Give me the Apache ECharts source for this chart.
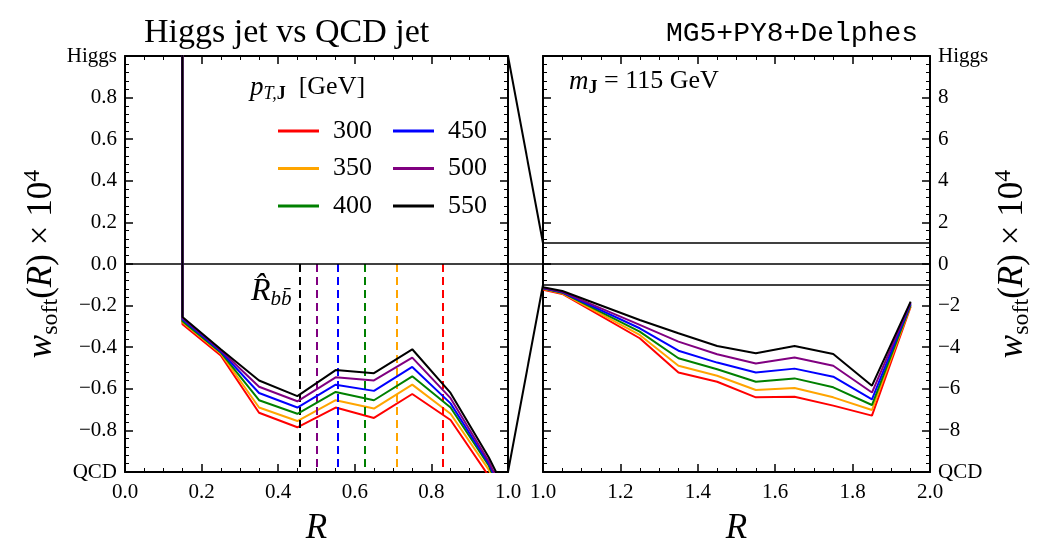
<!DOCTYPE html>
<html><head><meta charset="utf-8">
<script src="https://cdn.jsdelivr.net/npm/echarts@6/dist/echarts.min.js"></script>
<style>html,body{margin:0;padding:0;background:#fff}#c{width:1050px;height:552px}</style>
</head><body><div id="c"></div>
<script>
// ---- data ----
const R = [0.05, 0.15, 0.25, 0.35, 0.45, 0.55, 0.65, 0.75, 0.85, 0.95, 1.05, 1.25, 1.35, 1.45, 1.55, 1.65, 1.75, 1.85, 1.95];
const pTLabels = ['300', '350', '400', '450', '500', '550'];
const w300 = [500, -0.29, -0.44, -0.715, -0.785, -0.69, -0.74, -0.625, -0.75, -1.02, -1.44, -3.57, -5.22, -5.66, -6.41, -6.38, -6.81, -7.29, -2.05];
const w350 = [500, -0.28, -0.43, -0.69, -0.755, -0.655, -0.695, -0.58, -0.72, -0.99, -1.41, -3.41, -4.89, -5.37, -6.06, -5.96, -6.41, -7.02, -2.00];
const w400 = [500, -0.275, -0.425, -0.655, -0.72, -0.615, -0.655, -0.54, -0.69, -0.97, -1.38, -3.25, -4.53, -5.06, -5.66, -5.50, -5.93, -6.78, -1.96];
const w450 = [500, -0.265, -0.42, -0.62, -0.69, -0.58, -0.61, -0.495, -0.67, -0.96, -1.36, -3.09, -4.17, -4.74, -5.22, -5.03, -5.42, -6.51, -1.91];
const w500 = [500, -0.26, -0.415, -0.59, -0.66, -0.545, -0.56, -0.45, -0.645, -0.95, -1.34, -2.93, -3.73, -4.34, -4.78, -4.50, -4.89, -6.18, -1.86];
const w550 = [500, -0.255, -0.41, -0.56, -0.635, -0.51, -0.525, -0.41, -0.62, -0.93, -1.30, -2.69, -3.33, -3.94, -4.29, -3.94, -4.33, -5.85, -1.81];
const Rhat = [0.83, 0.71, 0.625, 0.555, 0.5, 0.455];
const colors = ['#ff0000', '#ffa500', '#008000', '#0000ff', '#800080', '#000000'];
const leftRange = [-1, 1];
const rightRange = [-10, 10];

const allW = [w300, w350, w400, w450, w500, w550];
const SERIF = 'Liberation Serif';
const MONO = 'Liberation Mono';

function fmtLeft(v) {
  if (Math.abs(v - 1) < 1e-9) return 'Higgs';
  if (Math.abs(v + 1) < 1e-9) return 'QCD';
  if (Math.abs(v) < 1e-9) return '0.0';
  return v.toFixed(1).replace('-', '\u2212');
}
function fmtRight(v) {
  if (Math.abs(v - 10) < 1e-9) return 'Higgs';
  if (Math.abs(v + 10) < 1e-9) return 'QCD';
  return String(Math.round(v)).replace('-', '\u2212');
}
function fmtX(v) { return v.toFixed(1); }

const nameRich = {
  i: {fontFamily: SERIF, fontStyle: 'italic', fontSize: 35, lineHeight: 42, color: '#000'},
  r: {fontFamily: SERIF, fontSize: 35, lineHeight: 42, color: '#000'},
  sub: {fontFamily: SERIF, fontSize: 24, lineHeight: 24, verticalAlign: 'bottom', color: '#000'},
  sup: {fontFamily: SERIF, fontSize: 24, lineHeight: 24, verticalAlign: 'top', color: '#000'}
};
const yName = '{i|w}{sub|soft}{r|(}{i|R}{r|) \u00d7 10}{sup|4}';

const axLine = {show: true, onZero: false, lineStyle: {color: '#000', width: 2}};
function xAx(grid, pos, min, max, labels, nm) {
  return {
    type: 'value', gridIndex: grid, position: pos, min: min, max: max, interval: 0.2,
    axisLine: axLine, splitLine: {show: false},
    axisTick: {show: true, inside: true, length: 8, lineStyle: {color: '#000', width: 1.5}},
    minorTick: {show: true, splitNumber: 4, length: 4, lineStyle: {color: '#000', width: 1}},
    axisLabel: {show: labels, formatter: fmtX, fontFamily: SERIF, fontSize: 21, color: '#000', margin: 10},
    name: nm ? '{i|R}' : '', nameLocation: 'middle', nameGap: 36,
    nameTextStyle: {rich: nameRich}
  };
}
function yAx(grid, pos, min, max, interval, labels, fmt, nm) {
  return {
    type: 'value', gridIndex: grid, position: pos, min: min, max: max, interval: interval,
    axisLine: axLine, splitLine: {show: false},
    axisTick: {show: true, inside: true, length: 8, lineStyle: {color: '#000', width: 1.5}},
    minorTick: {show: true, splitNumber: 5, length: 4, lineStyle: {color: '#000', width: 1}},
    axisLabel: {show: labels, formatter: fmt, fontFamily: SERIF, fontSize: 21, color: '#000', margin: 8},
    name: nm ? yName : '', nameLocation: 'middle', nameGap: 62, nameRotate: 90,
    nameTextStyle: {rich: nameRich}
  };
}

const series = [];
allW.forEach((w, i) => {
  const data = R.map((r, j) => [r, w[j]]);
  const leftMark = [[{coord: [Rhat[i], 0]}, {coord: [Rhat[i], leftRange[0]]}]];
  const leftML = {
    silent: true, symbol: 'none', label: {show: false}, animation: false,
    lineStyle: {type: [8, 5], width: 2, color: colors[i]},
    data: leftMark
  };
  if (i === 5) {
    leftML.data = leftMark.concat([{yAxis: 0, lineStyle: {type: 'solid', width: 1.5, color: '#000'}}]);
  }
  series.push({
    type: 'line', name: pTLabels[i], xAxisIndex: 0, yAxisIndex: 0, data: data,
    symbol: 'none', lineStyle: {color: colors[i], width: 2}, itemStyle: {color: colors[i]},
    z: 3 + i, animation: false, markLine: leftML
  });
  const rs = {
    type: 'line', name: pTLabels[i], xAxisIndex: 2, yAxisIndex: 3, data: data,
    symbol: 'none', lineStyle: {color: colors[i], width: 2}, itemStyle: {color: colors[i]},
    z: 3 + i, animation: false
  };
  if (i === 5) {
    rs.markLine = {
      silent: true, symbol: 'none', label: {show: false}, animation: false,
      lineStyle: {type: 'solid', width: 1.5, color: '#000'},
      data: [{yAxis: 1}, {yAxis: 0}, {yAxis: -1}]
    };
  }
  series.push(rs);
});

const legendBase = {
  orient: 'vertical', icon: 'rect', itemWidth: 41, itemHeight: 3, itemGap: 11.5, top: 113,
  selectedMode: false,
  textStyle: {fontFamily: SERIF, fontSize: 26, lineHeight: 26, color: '#000', padding: [0, 0, 0, 9]}
};

const chart = echarts.init(document.getElementById('c'), null, {renderer: 'canvas'});
chart.setOption({
  animation: false,
  backgroundColor: '#fff',
  title: [
    {text: 'Higgs jet vs QCD jet', left: 139, top: 11, textStyle: {fontFamily: SERIF, fontWeight: 'normal', fontSize: 34, color: '#000'}},
    {text: 'MG5+PY8+Delphes', right: 127, top: 15, textStyle: {fontFamily: MONO, fontWeight: 'normal', fontSize: 28, color: '#000'}}
  ],
  legend: [
    Object.assign({}, legendBase, {left: 273, data: pTLabels.slice(0, 3)}),
    Object.assign({}, legendBase, {left: 388, data: pTLabels.slice(3, 6)})
  ],
  grid: [
    {left: 125, top: 56, width: 383, height: 416},
    {left: 543, top: 56, width: 387, height: 416}
  ],
  xAxis: [
    xAx(0, 'bottom', 0, 1, true, true),
    xAx(0, 'top', 0, 1, false, false),
    xAx(1, 'bottom', 1, 2, true, true),
    xAx(1, 'top', 1, 2, false, false)
  ],
  yAxis: [
    yAx(0, 'left', leftRange[0], leftRange[1], 0.2, true, fmtLeft, true),
    yAx(0, 'right', leftRange[0], leftRange[1], 0.2, false, fmtLeft, false),
    yAx(1, 'left', rightRange[0], rightRange[1], 2, false, fmtRight, false),
    yAx(1, 'right', rightRange[0], rightRange[1], 2, true, fmtRight, true)
  ],
  series: series
});

// connectors computed from axis scales
const pL = (x, y) => chart.convertToPixel({xAxisIndex: 0, yAxisIndex: 0}, [x, y]);
const pR = (x, y) => chart.convertToPixel({xAxisIndex: 2, yAxisIndex: 3}, [x, y]);
const aTop = pL(1, leftRange[1]), bTop = pR(1, 1);
const aBot = pL(1, leftRange[0]), bBot = pR(1, -1);
const aZero = pL(1, 0), bZero = pR(1, 0);
const lineSt = {stroke: '#000', lineWidth: 2};
const txtRich = {
  i: {fontFamily: SERIF, fontStyle: 'italic', fontSize: 27, lineHeight: 32, fill: '#000'},
  r: {fontFamily: SERIF, fontSize: 26, lineHeight: 32, fill: '#000'},
  sub: {fontFamily: SERIF, fontStyle: 'italic', fontSize: 18, lineHeight: 18, verticalAlign: 'bottom', fill: '#000'},
  bsub: {fontFamily: SERIF, fontWeight: 'bold', fontSize: 18, lineHeight: 18, verticalAlign: 'bottom', fill: '#000'},
  ib: {fontFamily: SERIF, fontStyle: 'italic', fontSize: 32, lineHeight: 36, fill: '#000'},
  sb: {fontFamily: SERIF, fontStyle: 'italic', fontSize: 21, lineHeight: 21, verticalAlign: 'bottom', fill: '#000'}
};
chart.setOption({
  graphic: [
    {type: 'line', shape: {x1: aTop[0], y1: aTop[1], x2: bTop[0], y2: bTop[1]}, style: lineSt, z: 10},
    {type: 'line', shape: {x1: aBot[0], y1: aBot[1], x2: bBot[0], y2: bBot[1]}, style: lineSt, z: 10},
    {type: 'line', shape: {x1: aZero[0], y1: aZero[1], x2: bZero[0], y2: bZero[1]}, style: {stroke: '#000', lineWidth: 1.5}, z: 10},
    {type: 'text', left: 250, top: 74, z: 20, style: {text: '{i|p}{sub|T,}{bsub|J}{r|  [GeV]}', rich: txtRich}},
    {type: 'text', left: 569, top: 68, z: 20, style: {text: '{i|m}{bsub|J}{r| = 115 GeV}', rich: txtRich}},
    {type: 'text', left: 251, top: 276, z: 20, style: {text: '{ib|R\u0302}{sb|bb\u0304}', rich: txtRich}}
  ]
});
</script>
</body></html>
